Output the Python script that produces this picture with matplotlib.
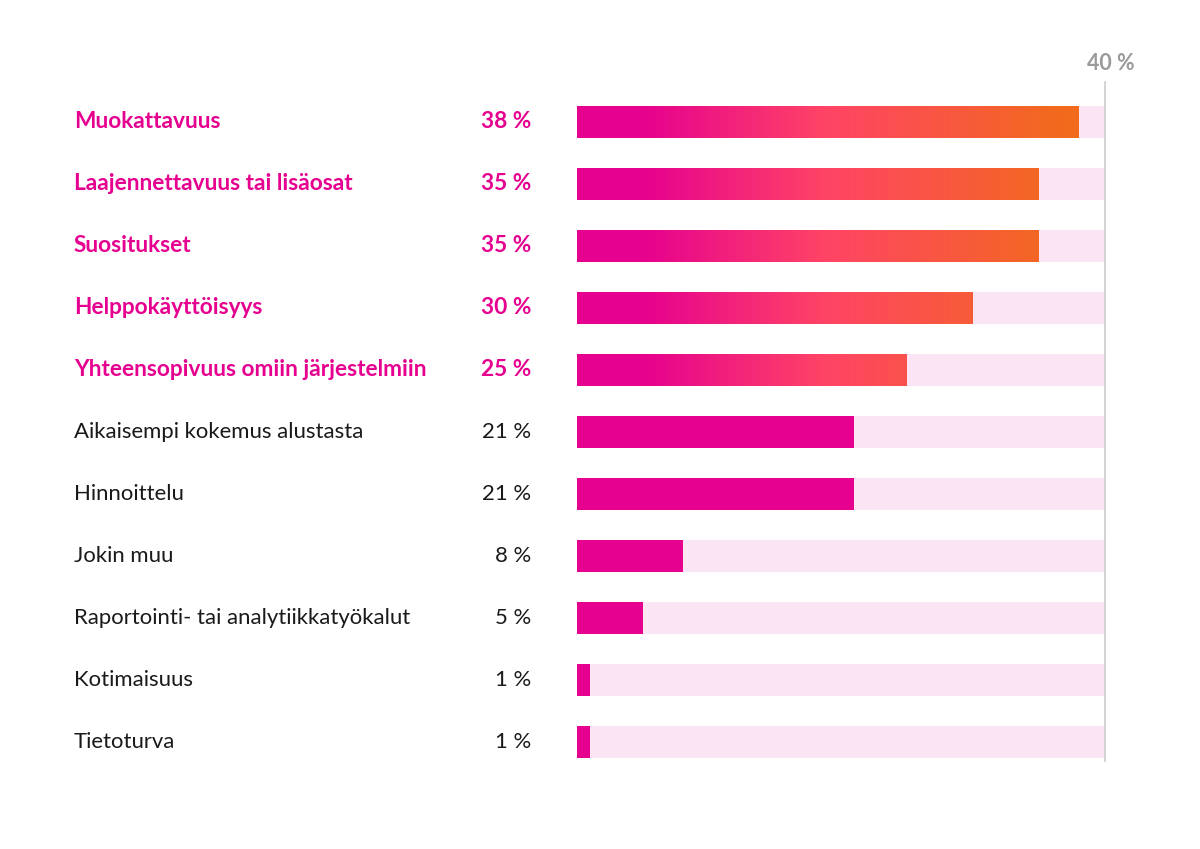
import matplotlib.pyplot as plt
import matplotlib.transforms as mtransforms
import numpy as np
from matplotlib.colors import LinearSegmentedColormap

plt.rcParams['font.family'] = ['Lato', 'DejaVu Sans']

# data
labels = ["Muokattavuus", "Laajennettavuus tai lisäosat", "Suositukset",
          "Helppokäyttöisyys", "Yhteensopivuus omiin järjestelmiin",
          "Aikaisempi kokemus alustasta", "Hinnoittelu", "Jokin muu",
          "Raportointi- tai analytiikkatyökalut", "Kotimaisuus", "Tietoturva"]
values = [38, 35, 35, 30, 25, 21, 21, 8, 5, 1, 1]
highlight = [True, True, True, True, True, False, False, False, False, False, False]
axis_max = 40

MAGENTA = "#E6008F"
BG = "#FBE4F4"
grad = LinearSegmentedColormap.from_list(
    "grad", [(0, "#E6008F"), (0.12, "#E6008F"), (0.47, "#FF4466"),
             (0.92, "#F26A1C"), (1.0, "#F26A1C")])

fig = plt.figure(figsize=(12, 8.49), dpi=100)
W, H = 1200, 849
top_px, bot_px = 91, 773
ax = fig.add_axes([577 / W, 1 - bot_px / H, (1105 - 577) / W, (bot_px - top_px) / H])
ax.axis('off')

bh = 0.53
gradient_img = np.linspace(0, 1, 512).reshape(1, -1)
for i, (v, hl) in enumerate(zip(values, highlight)):
    ax.barh(i, axis_max, height=bh, color=BG, zorder=1)
    if hl:
        bar = ax.barh(i, v, height=bh, color="none", zorder=2)[0]
        im = ax.imshow(gradient_img, cmap=grad, aspect='auto',
                       extent=(0, axis_max, i + bh / 2, i - bh / 2), zorder=2)
        im.set_clip_path(bar)
    else:
        ax.barh(i, v, height=bh, color=MAGENTA, zorder=2)

ax.set_xlim(0, axis_max)
ax.set_ylim(len(labels) - 0.5, -0.5)

# vertical reference line
ax.plot([axis_max, axis_max], [-0.65, 10.3], color="#cccccc", lw=1.2,
        clip_on=False, zorder=3)
ax.text(axis_max + 0.45, -0.94, "40 %", ha="center", va="center",
        fontsize=15.5, color="#9a9a9a", fontweight="bold")

trans = mtransforms.blended_transform_factory(fig.transFigure, ax.transData)
for i, (lab, v, hl) in enumerate(zip(labels, values, highlight)):
    col = MAGENTA if hl else "#1a1a1a"
    wt = "bold" if hl else "normal"
    fs = 16.3 if hl else 15.9
    ax.text(74 / W, i, lab, transform=trans, ha="left", va="center",
            fontsize=fs, color=col, fontweight=wt)
    ax.text(531 / W, i, f"{v} %", transform=trans, ha="right", va="center",
            fontsize=fs, color=col, fontweight=wt)

fig.savefig("out.png", dpi=100, facecolor="white")
